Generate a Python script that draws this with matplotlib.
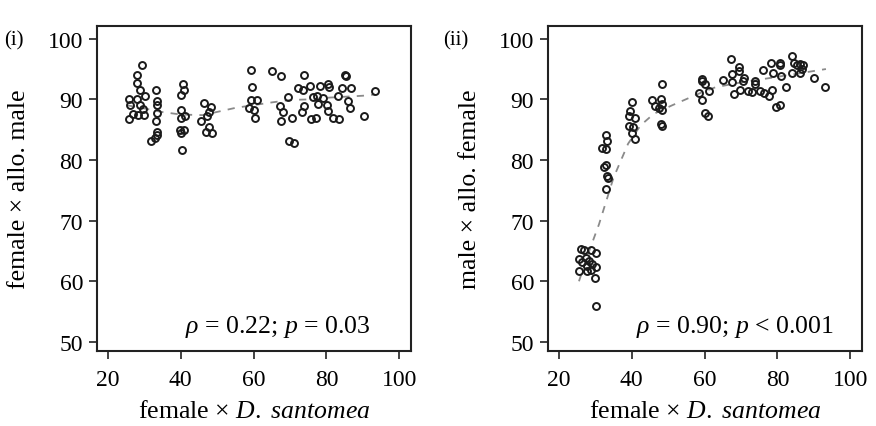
import matplotlib
matplotlib.use("Agg")
import matplotlib.pyplot as plt

plt.rcParams["font.family"] = ["Liberation Serif", "DejaVu Serif"]
plt.rcParams["mathtext.fontset"] = "custom"
plt.rcParams["mathtext.rm"] = "Liberation Serif"
plt.rcParams["mathtext.it"] = "Liberation Serif:italic"

# panel (i): female x D. santomea vs female x allo. male
x_i = [29.4, 27.9, 27.9, 28.8, 30.2, 25.9, 27.9, 26.0, 28.8, 29.7, 27.0, 28.3, 25.9, 29.9,
       33.3, 33.5, 33.5, 33.6, 33.3, 33.6, 33.4, 33.0, 31.7,
       40.6, 40.8, 40.1, 40.0, 40.0, 41.2, 39.8, 41.0, 40.0, 40.2,
       46.5, 48.2, 47.7, 47.1, 45.5, 47.8, 46.8, 48.7,
       59.4, 59.6, 59.4, 60.9, 58.8, 60.2, 60.3,
       65.1, 67.6, 67.3, 68.0, 67.6, 69.5, 70.5, 69.7, 71.1,
       73.9, 72.3, 73.6, 75.6, 76.2, 73.9, 73.2, 78.2, 77.5, 79.1, 77.7, 80.4, 80.6,
       75.8, 77.2, 80.2, 80.4, 81.9, 83.5, 83.1, 84.2, 85.2, 85.4, 86.8, 85.9, 86.4,
       90.3, 93.3]
y_i = [95.6, 94.1, 92.7, 91.5, 90.5, 90.1, 90.1, 89.0, 89.0, 88.4, 87.6, 87.4, 86.8, 87.4,
       91.5, 89.8, 89.0, 87.8, 86.4, 84.7, 84.1, 83.6, 83.1,
       92.5, 91.5, 90.8, 88.3, 87.0, 87.2, 85.0, 85.0, 84.5, 81.6,
       89.4, 88.7, 87.9, 87.3, 86.4, 85.4, 84.7, 84.5,
       94.9, 92.1, 89.9, 89.9, 88.5, 88.3, 86.9,
       94.6, 93.8, 88.9, 87.9, 86.5, 90.4, 87.0, 83.2, 82.8,
       94.0, 91.9, 91.5, 92.2, 90.4, 88.9, 87.9, 92.2, 90.5, 90.3, 89.3, 92.5, 92.1,
       86.7, 87.0, 89.1, 88.0, 86.9, 86.7, 90.6, 91.8, 94.1, 93.8, 91.8, 89.8, 88.5,
       87.2, 91.3]
fit_x_i = [25.5, 30, 35, 40, 46, 55, 65, 70, 75.5, 81, 90, 93.3]
fit_y_i = [89.0, 88.5, 87.9, 87.5, 87.4, 88.6, 89.5, 89.9, 90.0, 90.3, 90.6, 90.8]

# panel (ii): female x D. santomea vs male x allo. female
x_ii = [67.2, 69.3, 69.3, 67.6, 70.8, 70.4, 67.6, 69.6, 68.0, 65.1,
        72.0, 73.1, 73.8, 73.7, 75.3, 76.2, 77.6, 78.5, 76.1, 78.1, 78.8,
        80.8, 80.8, 81.0, 82.2, 79.5, 80.6, 83.9, 84.5, 85.4, 86.3, 87.0,
        86.1, 86.8, 83.9, 90.0, 93.0,
        59.4, 59.2, 60.1, 58.5, 61.3, 59.4, 60.1, 61.0,
        48.4, 45.5, 46.4, 48.0, 48.4, 47.5, 48.2, 48.0, 48.2,
        40.1, 39.6, 39.1, 40.8, 39.1, 40.2, 40.1, 40.8,
        33.0, 33.3, 31.7, 33.0, 32.4, 33.0, 33.3, 33.5, 32.8,
        26.0, 26.9, 28.7, 30.1, 25.5, 27.5, 26.2, 28.2, 29.1, 27.7, 30.1,
        25.5, 27.7, 28.9, 29.8, 30.1]
y_ii = [96.7, 95.4, 94.6, 94.2, 93.6, 93.0, 92.8, 91.6, 90.9, 93.2,
        91.4, 91.2, 93.1, 92.6, 91.4, 91.0, 90.5, 91.6, 94.9, 96.0, 94.4,
        96.0, 95.6, 93.8, 92.0, 88.7, 89.1, 97.1, 96.0, 95.7, 95.8, 95.7,
        94.4, 95.0, 94.3, 93.6, 92.0,
        93.3, 93.0, 92.5, 91.1, 91.4, 89.9, 87.8, 87.3,
        92.6, 89.9, 88.9, 90.0, 89.3, 88.6, 88.3, 86.0, 85.6,
        89.6, 88.1, 87.2, 87.0, 85.6, 85.4, 84.5, 83.4,
        84.2, 83.1, 81.9, 81.8, 78.9, 79.2, 77.4, 77.1, 75.2,
        65.3, 65.2, 65.1, 64.7, 63.7, 63.8, 63.1, 63.3, 62.9, 62.5, 62.3,
        61.7, 61.7, 61.9, 60.6, 56.0]
fit_x_ii = [25.5, 28, 31, 35, 39, 42.4, 46, 51, 59.4, 63, 70, 77.7, 85, 93.3]
fit_y_ii = [60.0, 64.5, 69.4, 77.1, 82.7, 85.7, 87.6, 89.0, 91.2, 92.0, 92.8, 93.5, 94.2, 95.0]

panels = [
    ("(i)", x_i, y_i, fit_x_i, fit_y_i, "female × allo. male",
     r"$\rho$ = 0.22; $p$ = 0.03", 92.0),
    ("(ii)", x_ii, y_ii, fit_x_ii, fit_y_ii, "male × allo. female",
     r"$\rho$ = 0.90; $p$ < 0.001", 95.5),
]

fig = plt.figure(figsize=(8.76, 4.27), dpi=100)
lefts = [97 / 876, 548 / 876]
tag_x = [4 / 876, 443 / 876]

for (tag, xs, ys, fx, fy, ylab, note, note_x), left, tx in zip(panels, lefts, tag_x):
    ax = fig.add_axes([left, 75 / 427, 314 / 876, 325 / 427])
    ax.plot(fx, fy, color="#8a8a8a", linestyle=(0, (4, 4)), linewidth=1.3, zorder=1)
    ax.plot(xs, ys, linestyle="none", marker="o", markersize=5, markerfacecolor="none",
            markeredgecolor="#1a1a1a", markeredgewidth=1.4, zorder=2)
    ax.set_xlim(17.0, 103.2)
    ax.set_ylim(48.5, 102.1)
    ax.set_xticks([20, 40, 60, 80, 100])
    ax.set_yticks([50, 60, 70, 80, 90, 100])
    ax.tick_params(direction="out", length=6, width=1.2, labelsize=17, pad=4, color="#222222")
    ax.tick_params(axis="x", pad=7)
    for s in ax.spines.values():
        s.set_linewidth(1.5)
        s.set_color("#222222")
    ax.set_xlabel(r"female × $\it{D.}$ $\it{santomea}$", fontsize=18.5, labelpad=7)
    ax.set_ylabel(ylab, fontsize=18.5, labelpad=13)
    ax.text(note_x, 52.6, note, fontsize=18.5, ha="right", va="center")
    fig.text(tx, 0.905, tag, fontsize=15, ha="left", va="center")

plt.savefig("out.png", dpi=100)
